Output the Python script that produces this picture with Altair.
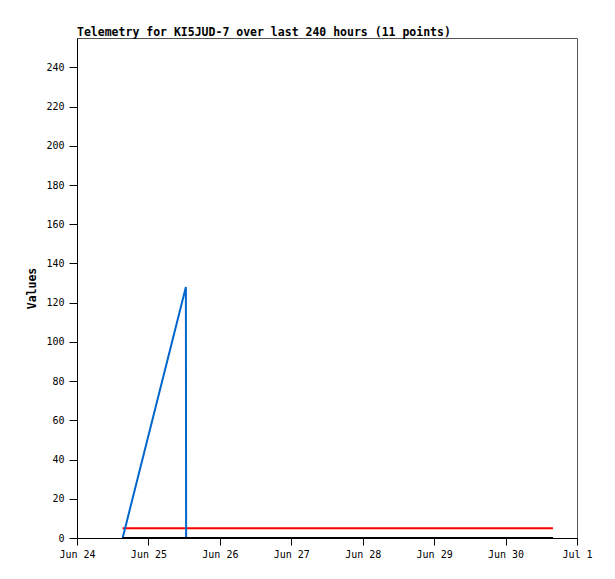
import altair as alt
import pandas as pd

times = [
    "2024-06-24T15:20:00Z", "2024-06-25T12:35:00Z", "2024-06-25T12:40:00Z",
    "2024-06-26T06:00:00Z", "2024-06-26T22:00:00Z", "2024-06-27T14:00:00Z",
    "2024-06-28T08:00:00Z", "2024-06-29T01:00:00Z", "2024-06-29T16:00:00Z",
    "2024-06-30T05:00:00Z", "2024-06-30T15:55:00Z",
]
blue_vals = [0, 128, 0, 0, 0, 0, 0, 0, 0, 0, 0]
red_vals = [5, 5, 5, 5, 5, 5, 5, 5, 5, 5, 5]
black_vals = [0, 0, 0, 0, 0, 0, 0, 0, 0, 0, 0]
y_ticks = list(range(0, 241, 20))
x_tick_days = [(6, 24), (6, 25), (6, 26), (6, 27), (6, 28), (6, 29), (6, 30), (7, 1)]

df = pd.DataFrame({"t": times, "blue": blue_vals, "red": red_vals, "black": black_vals})

FONT = "DejaVu Sans Mono"

x_enc = alt.X(
    "t:T",
    scale=alt.Scale(
        type="utc",
        domain=[alt.DateTime(year=2024, month=6, date=24, utc=True),
                alt.DateTime(year=2024, month=7, date=1, utc=True)],
    ),
    axis=alt.Axis(
        title=None,
        format="%b %-d",
        values=[alt.DateTime(year=2024, month=m, date=d, utc=True) for m, d in x_tick_days],
        labelFont=FONT, labelFontSize=10, labelColor="black",
        domainColor="black", tickColor="black", tickSize=7, labelPadding=4,
        grid=False, labelFlush=False, labelOverlap=False,
    ),
)

y_axis = alt.Axis(
    title="Values",
    values=y_ticks,
    labelFont=FONT, labelFontSize=10, labelColor="black",
    titleFont=FONT, titleFontSize=11.5, titleFontWeight="bold", titleColor="black",
    domainColor="black", tickColor="black", tickSize=8, labelPadding=5,
    grid=False, titlePadding=8,
)
y_scale = alt.Scale(domain=[0, 255], nice=False)

base = alt.Chart(df)
red = base.mark_line(color="#ff0000", strokeWidth=2, interpolate="linear").encode(
    x=x_enc, y=alt.Y("red:Q", scale=y_scale, axis=y_axis))
blue = base.mark_line(color="#0066cc", strokeWidth=2).encode(
    x=x_enc, y=alt.Y("blue:Q", scale=y_scale, axis=y_axis))
black = base.mark_line(color="#000000", strokeWidth=2).encode(
    x=x_enc, y=alt.Y("black:Q", scale=y_scale, axis=y_axis))

chart = alt.layer(red, blue, black).properties(
    width=500, height=500,
    title=alt.TitleParams(
        "Telemetry for KI5JUD-7 over last 240 hours (11 points)",
        anchor="start", frame="group", font=FONT, fontSize=11.5, fontWeight="bold",
        color="black", offset=0,
    ),
    autosize=alt.AutoSizeParams(type="none"),
    padding={"left": 69, "top": 30, "right": 30, "bottom": 33},
).configure_view(stroke="#555555", strokeWidth=1)

chart.save("out.html", embed_options={"renderer": "svg", "actions": False})
